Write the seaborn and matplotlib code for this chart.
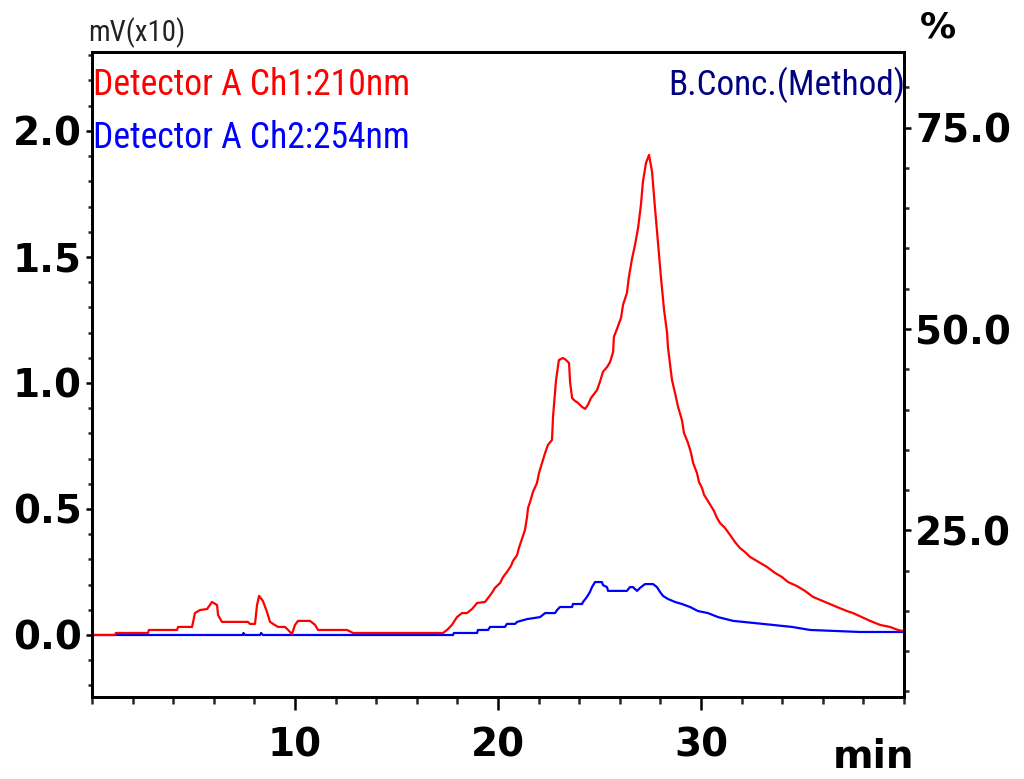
import matplotlib
matplotlib.use("Agg")
import matplotlib.pyplot as plt
from matplotlib import font_manager
import numpy as np
import pandas as pd
import seaborn as sns
from matplotlib.ticker import MultipleLocator, FixedLocator, FormatStrFormatter

# ---- data (time in min, signal in mV x10) ----
ch1_time = [0.0, 1.13, 1.18, 2.76, 2.8, 4.19, 4.24, 4.93, 5.07, 5.32, 5.67, 5.91, 6.16, 6.21, 6.40,
            7.68, 7.78, 8.03, 8.13, 8.23, 8.42, 8.62, 8.77, 8.92, 9.16, 9.51, 9.66, 9.85, 10.0, 10.15,
            10.74, 10.99, 11.13, 12.56, 12.86, 17.29, 17.49, 17.73, 17.98, 18.23, 18.47, 18.72, 18.97,
            19.36, 19.51, 19.70, 19.85, 20.10, 20.25, 20.44, 20.64, 20.74, 20.94, 21.03, 21.18, 21.33,
            21.43, 21.48, 21.58, 21.72, 21.92, 22.02, 22.17, 22.32, 22.46, 22.66, 22.71, 22.86, 23.0,
            23.20, 23.35, 23.50, 23.55, 23.65, 23.79, 23.94, 24.14, 24.29, 24.43, 24.58, 24.88, 25.02,
            25.17, 25.37, 25.52, 25.67, 25.71, 25.86, 26.06, 26.16, 26.35, 26.45, 26.60, 26.75, 26.90,
            27.04, 27.14, 27.29, 27.44, 27.59, 27.73, 27.88, 28.03, 28.18, 28.33, 28.37, 28.47, 28.57,
            28.72, 28.87, 29.06, 29.16, 29.36, 29.51, 29.61, 29.80, 29.90, 30.05, 30.15, 30.34, 30.49,
            30.64, 30.79, 30.94, 31.18, 31.43, 31.67, 31.92, 32.17, 32.41, 32.66, 32.91, 33.25, 33.65,
            33.99, 34.29, 34.73, 35.12, 35.52, 36.11, 36.70, 37.19, 37.49, 37.93, 38.33, 38.82, 39.31,
            39.70, 39.95]
ch1_signal = [0.0, 0.0, 0.008, 0.008, 0.02, 0.02, 0.032, 0.032, 0.087, 0.099, 0.103, 0.131, 0.119,
              0.079, 0.052, 0.052, 0.044, 0.044, 0.119, 0.155, 0.135, 0.091, 0.052, 0.044, 0.032,
              0.032, 0.02, 0.004, 0.04, 0.056, 0.056, 0.04, 0.02, 0.02, 0.008, 0.008, 0.02, 0.04,
              0.071, 0.087, 0.087, 0.103, 0.127, 0.131, 0.147, 0.167, 0.187, 0.206, 0.230, 0.25,
              0.274, 0.294, 0.317, 0.345, 0.381, 0.417, 0.468, 0.504, 0.528, 0.567, 0.603, 0.643,
              0.683, 0.722, 0.754, 0.774, 0.865, 1.012, 1.091, 1.099, 1.091, 1.079, 1.004, 0.940,
              0.929, 0.921, 0.905, 0.897, 0.913, 0.940, 0.972, 1.004, 1.044, 1.063, 1.083, 1.123,
              1.183, 1.214, 1.258, 1.31, 1.357, 1.421, 1.492, 1.548, 1.615, 1.706, 1.798, 1.873,
              1.905, 1.837, 1.698, 1.560, 1.417, 1.290, 1.198, 1.143, 1.079, 1.012, 0.960, 0.905,
              0.853, 0.802, 0.762, 0.722, 0.683, 0.643, 0.607, 0.583, 0.556, 0.532, 0.512, 0.492,
              0.464, 0.444, 0.425, 0.397, 0.369, 0.345, 0.329, 0.310, 0.298, 0.286, 0.270, 0.246,
              0.230, 0.210, 0.194, 0.175, 0.151, 0.131, 0.111, 0.095, 0.087, 0.071, 0.056, 0.040,
              0.032, 0.02, 0.016]

ch2_time = [0.0, 7.44, 7.46, 7.54, 8.28, 8.33, 8.42, 17.78, 17.83, 18.97, 19.01, 19.51, 19.61, 20.34,
            20.44, 20.84, 20.94, 21.43, 22.07, 22.32, 22.81, 22.91, 23.05, 23.65, 23.69, 24.14, 24.19,
            24.38, 24.53, 24.63, 24.78, 25.12, 25.17, 25.37, 25.42, 26.35, 26.50, 26.65, 26.85, 27.0,
            27.24, 27.64, 27.83, 27.98, 28.13, 28.37, 28.72, 29.06, 29.46, 29.85, 30.34, 30.84, 31.58,
            33.05, 34.48, 35.37, 37.83, 39.95]
ch2_signal = [0.0, 0.0, 0.008, 0.0, 0.0, 0.008, 0.0, 0.0, 0.008, 0.008, 0.02, 0.02, 0.032, 0.032,
              0.044, 0.044, 0.052, 0.063, 0.071, 0.087, 0.087, 0.099, 0.111, 0.111, 0.123, 0.123,
              0.131, 0.151, 0.171, 0.190, 0.210, 0.210, 0.198, 0.190, 0.175, 0.175, 0.190, 0.190,
              0.175, 0.187, 0.202, 0.202, 0.190, 0.171, 0.155, 0.143, 0.131, 0.123, 0.111, 0.095,
              0.087, 0.071, 0.056, 0.044, 0.032, 0.02, 0.012, 0.012]

x_major = [10, 20, 30]
y_major = [0.0, 0.5, 1.0, 1.5, 2.0]
conc_major = [25.0, 50.0, 75.0]

ch1_label = "Detector A Ch1:210nm"
ch2_label = "Detector A Ch2:254nm"
conc_label = "B.Conc.(Method)"
unit_label = "mV(x10)"

# ---- style ----
sns.set_style("ticks")
plt.rcParams["font.family"] = ["DejaVu Sans"]

available = {f.name for f in font_manager.fontManager.ttflist}
narrow_font = "DejaVu Sans"
for cand in ["Liberation Sans Narrow", "DejaVu Sans Condensed", "Roboto Condensed",
             "Open Sans Condensed", "Liberation Sans", "Roboto"]:
    if cand in available:
        narrow_font = cand
        break
narrow = [narrow_font, "DejaVu Sans"]

W, H = 1024, 779
fig = plt.figure(figsize=(W / 100, H / 100), dpi=100)
fig.patch.set_facecolor("white")
ax = fig.add_axes([92 / W, 1 - 697 / H, 812 / W, 645 / H])

df1 = pd.DataFrame({"time": ch1_time, "signal": ch1_signal})
df2 = pd.DataFrame({"time": ch2_time, "signal": ch2_signal})
sns.lineplot(data=df2, x="time", y="signal", color="#0000FF", linewidth=1.6,
             sort=False, estimator=None, ax=ax)
sns.lineplot(data=df1, x="time", y="signal", color="#FF0000", linewidth=1.6,
             sort=False, estimator=None, ax=ax)

ax.set_xlim(0, 40)
ax.set_ylim(-0.246, 2.313)
ax.set_xlabel("")
ax.set_ylabel("")
ax.xaxis.set_major_locator(FixedLocator(x_major))
ax.xaxis.set_minor_locator(MultipleLocator(2))
ax.yaxis.set_major_locator(FixedLocator(y_major))
ax.yaxis.set_minor_locator(MultipleLocator(0.1))
ax.yaxis.set_major_formatter(FormatStrFormatter("%.1f"))

ax.tick_params(axis="y", which="major", direction="out", length=4.5, width=1.8, pad=3,
               labelsize=28, colors="black")
ax.tick_params(axis="y", which="minor", direction="out", length=3, width=1.8)
ax.tick_params(axis="x", which="major", direction="out", length=9.5, width=1.8, pad=12,
               labelsize=28, colors="black")
ax.tick_params(axis="x", which="minor", direction="out", length=5, width=1.8)
for lab in ax.get_xticklabels() + ax.get_yticklabels():
    lab.set_fontweight("bold")

for s in ax.spines.values():
    s.set_linewidth(2.0)
    s.set_color("black")
    s.set_visible(True)

ax2 = ax.twinx()
ax2.set_ylim(4.3, 84.4)
ax2.yaxis.set_major_locator(FixedLocator(conc_major))
ax2.yaxis.set_minor_locator(MultipleLocator(5))
ax2.yaxis.set_major_formatter(FormatStrFormatter("%.1f"))
ax2.tick_params(axis="y", which="major", direction="out", length=5, width=1.8, pad=3,
                labelsize=28, colors="black")
ax2.tick_params(axis="y", which="minor", direction="out", length=3.5, width=1.8)
for lab in ax2.get_yticklabels():
    lab.set_fontweight("bold")
for s in ax2.spines.values():
    s.set_linewidth(2.0)
    s.set_color("black")

# ---- texts (font size fitted to the reference text widths) ----
renderer = fig.canvas.get_renderer()


def fitted_text(x_px, base_px, s, width_px, color, ha="left", start=28):
    t = fig.text(x_px / W, 1 - base_px / H, s, family=narrow, fontsize=start, color=color,
                 ha=ha, va="baseline")
    w = t.get_window_extent(renderer).width
    t.set_fontsize(start * width_px / w)
    return t


fitted_text(88, 41, unit_label, 97, "#222222")
fitted_text(93, 95, ch1_label, 317, "#FF0000")
fitted_text(93, 148, ch2_label, 317, "#0000FF")
fitted_text(905, 95, conc_label, 237, "#000080", ha="right")

fig.text(920 / W, 1 - 38 / H, "%", fontsize=26, color="black", fontweight="bold",
         ha="left", va="baseline")
fig.text(833 / W, 1 - 768 / H, "min", fontsize=28, color="black", fontweight="bold",
         ha="left", va="baseline")

fig.savefig("out.png", dpi=100, facecolor="white")
